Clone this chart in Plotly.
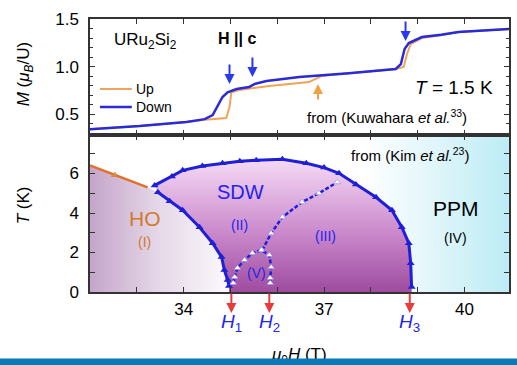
import plotly.graph_objects as go

# ---------------- data ----------------
# Top panel: magnetisation M (muB/U) vs field mu0H (T), T = 1.5 K
up_H = [32.0, 33.06, 34.06, 34.45, 34.91, 34.98, 35.02, 35.19, 35.83, 36.68, 36.81, 36.94,
        37.53, 38.53, 38.70, 38.77, 38.85, 39.09, 39.5, 39.87, 40.95]
up_M = [0.342, 0.374, 0.416, 0.440, 0.458, 0.574, 0.730, 0.753, 0.795, 0.837, 0.868, 0.900,
        0.930, 0.974, 0.995, 1.130, 1.237, 1.300, 1.330, 1.363, 1.395]
down_H = [32.0, 33.06, 34.06, 34.45, 34.62, 34.72, 34.83, 34.94, 35.13, 35.40, 35.51, 35.77,
          36.47, 37.53, 38.53, 38.64, 38.72, 38.81, 39.09, 39.5, 39.87, 40.95]
down_M = [0.342, 0.374, 0.416, 0.447, 0.490, 0.574, 0.680, 0.730, 0.763, 0.784, 0.816, 0.847,
          0.890, 0.930, 0.974, 1.026, 1.184, 1.247, 1.310, 1.335, 1.363, 1.395]

# Bottom panel: phase diagram T (K) vs mu0H (T)
ho_line_H = [32.0, 32.53, 33.23]
ho_line_T = [6.41, 5.93, 5.30]
sdw_upper_H = [33.38, 33.75, 33.98, 34.40, 34.83, 35.20, 35.55, 36.11, 36.62, 37.00, 37.32,
               37.68, 38.11, 38.45, 38.66, 38.81, 38.85, 38.87]
sdw_upper_T = [5.40, 5.85, 6.16, 6.38, 6.52, 6.62, 6.67, 6.72, 6.52, 6.30, 6.01,
               5.45, 4.80, 4.14, 3.28, 2.47, 1.46, 0.25]
sdw_lower_H = [33.45, 33.70, 33.98, 34.34, 34.62, 34.81, 34.87, 34.94, 34.97]
sdw_lower_T = [5.05, 4.60, 4.14, 3.28, 2.47, 1.77, 1.11, 0.61, 0.30]
iii_H = [35.68, 35.87, 36.11, 36.53, 36.89, 37.28]
iii_T = [2.12, 2.98, 3.79, 4.55, 5.00, 5.56]
v_H = [35.06, 35.09, 35.15, 35.30, 35.47, 35.66, 35.83, 35.87, 35.85, 35.85]
v_T = [0.45, 0.76, 1.21, 1.62, 1.97, 2.12, 1.87, 1.26, 0.71, 0.45]

crit_fields = [35.02, 35.83, 38.83]
crit_labels = ["<i>H</i><sub>1</sub>", "<i>H</i><sub>2</sub>", "<i>H</i><sub>3</sub>"]
blue_arrow_H = [34.98, 35.47, 38.74]
blue_arrow_M = [0.816, 0.890, 1.268]
orange_arrow_H = 36.87
orange_arrow_M = 0.816

x_ticks = [32, 33, 34, 35, 36, 37, 38, 39, 40]
x_ticktext = ["", "", "34", "", "", "37", "", "", "40"]
t_ticks = [0, 1, 2, 3, 4, 5, 6, 7]
t_ticktext = ["0", "", "2", "", "4", "", "6", ""]
m_ticks = [0.5, 1.0, 1.5]
m_ticktext = ["0.5", "1.0", "1.5"]

# ---------------- styling ----------------
FONT = "Arial, Liberation Sans, sans-serif"
BLUE = "#1f1fd8"
LBLUE = "#2323ee"
ORANGE = "#f0a35a"
DOWNC = "#2a2ad6"
HOCOL = "#d27a2c"
RED = "#e83b3b"
AX = "#333333"
BAND = "#0b78b8"

W, H = 517, 365
# wanted plot area on screen: x 90..511, y 19..292
ML, MT = 90, 19
MR = W - 511
MB = H - 292
PW, PH = W - ML - MR, H - MT - MB


def px_x(p):
    return (p - ML) / PW


def px_y(p):
    return (H - MB - p) / PH


fig = go.Figure()

# --- bottom panel background regions ---
x_lo, x_hi = 32.0, 40.95
t_lo, t_hi = 0.0, 7.95
fig.add_trace(go.Scatter(
    x=[37.6, x_hi, x_hi, 37.6, 37.6], y=[t_lo, t_lo, t_hi, t_hi, t_lo],
    fill="toself", mode="none", showlegend=False, hoverinfo="skip",
    fillgradient=dict(type="horizontal", start=37.8, stop=x_hi,
                      colorscale=[[0, "#ffffff"], [0.45, "#e2f6fa"], [1, "#bcecf5"]]),
    xaxis="x", yaxis="y"))

ho_poly_H = [x_lo, x_lo] + ho_line_H[1:] + sdw_lower_H + [sdw_lower_H[-1], x_lo]
ho_poly_T = [t_lo, ho_line_T[0]] + ho_line_T[1:] + sdw_lower_T + [t_lo, t_lo]
fig.add_trace(go.Scatter(
    x=ho_poly_H, y=ho_poly_T, fill="toself", mode="none", showlegend=False,
    hoverinfo="skip",
    fillgradient=dict(type="horizontal", start=32.0, stop=35.0,
                      colorscale=[[0, "#c5a5ca"], [0.5, "#e6d9e9"], [1, "#fcfafc"]]),
    xaxis="x", yaxis="y"))

dome_H = sdw_upper_H + [sdw_upper_H[-1], sdw_lower_H[-1]] + sdw_lower_H[::-1]
dome_T = sdw_upper_T + [t_lo, t_lo] + sdw_lower_T[::-1]
fig.add_trace(go.Scatter(
    x=dome_H, y=dome_T, fill="toself", mode="none", showlegend=False,
    hoverinfo="skip",
    fillgradient=dict(type="vertical", start=0.0, stop=6.8,
                      colorscale=[[0, "#9e4ca0"], [0.45, "#cb8acc"], [1, "#f6dcf6"]]),
    xaxis="x", yaxis="y"))

# --- phase boundaries ---
fig.add_trace(go.Scatter(
    x=ho_line_H, y=ho_line_T, mode="lines+markers", showlegend=False,
    line=dict(color="#e2702c", width=2.5),
    marker=dict(symbol="triangle-up", size=[0, 6, 0], color="#c8a040"),
    xaxis="x", yaxis="y"))
for hx, ty in [(sdw_upper_H, sdw_upper_T), (sdw_lower_H, sdw_lower_T)]:
    fig.add_trace(go.Scatter(
        x=hx, y=ty, mode="lines+markers", showlegend=False,
        line=dict(color=BLUE, width=3),
        marker=dict(symbol="triangle-up", size=7, color=BLUE),
        xaxis="x", yaxis="y"))
for hx, ty in [(iii_H, iii_T), (v_H, v_T)]:
    fig.add_trace(go.Scatter(
        x=hx, y=ty, mode="lines+markers", showlegend=False,
        line=dict(color=BLUE, width=2.5, dash="4px,2px"),
        marker=dict(symbol="triangle-up", size=6, color="white",
                    line=dict(color="#7a7ae0", width=0.5)),
        xaxis="x", yaxis="y"))

# --- magnetisation curves ---
fig.add_trace(go.Scatter(x=up_H, y=up_M, mode="lines", name="Up", showlegend=False,
                         line=dict(color=ORANGE, width=2), xaxis="x2", yaxis="y2"))
fig.add_trace(go.Scatter(x=down_H, y=down_M, mode="lines", name="Down", showlegend=False,
                         line=dict(color=DOWNC, width=2.5), xaxis="x2", yaxis="y2"))

# ---------------- annotations ----------------
ann = []
shapes = []


def txt(x, y, s, size, color="black", xref="x", yref="y", **kw):
    d = dict(x=x, y=y, xref=xref, yref=yref, text=s, showarrow=False,
             xanchor="center", yanchor="middle",
             font=dict(family=FONT, size=size, color=color))
    d.update(kw)
    ann.append(d)


# top panel
txt(33.19, 1.268, "URu<sub>2</sub>Si<sub>2</sub>", 17, xref="x2", yref="y2")
txt(35.13, 1.29, "<b>H</b> <b>||</b> <b>c</b>", 16, xref="x2", yref="y2")
txt(39.77, 0.784, "<i>T</i> = 1.5 K", 19, xref="x2", yref="y2")
txt(38.34, 0.479, "from (Kuwahara <i>et al.</i><sup>33</sup>)", 15, xref="x2", yref="y2")
for hx, my in zip(blue_arrow_H, blue_arrow_M):
    ann.append(dict(x=hx, y=my, xref="x2", yref="y2", ax=0, ay=-21, text="",
                    showarrow=True, arrowhead=2, arrowsize=1, arrowwidth=2,
                    arrowcolor="#2a3ae8"))
ann.append(dict(x=orange_arrow_H, y=orange_arrow_M, xref="x2", yref="y2", ax=0, ay=17,
                text="", showarrow=True, arrowhead=2, arrowsize=1, arrowwidth=2,
                arrowcolor="#f2a040"))

# legend (drawn by hand to match the original placement)
for name, col, wid, py in [("Up", ORANGE, 2, 89), ("Down", DOWNC, 2.5, 107)]:
    shapes.append(dict(type="line", xref="paper", yref="paper", x0=px_x(100), x1=px_x(132),
                       y0=px_y(py), y1=px_y(py), line=dict(color=col, width=wid)))
    txt(px_x(134), px_y(py), name, 14, xref="paper", yref="paper", xanchor="left")

# bottom panel
txt(38.83, 6.97, "from (Kim <i>et al.</i><sup>23</sup>)", 15)
txt(33.17, 3.74, "HO", 21, HOCOL)
txt(33.17, 2.55, "(I)", 14, HOCOL)
txt(35.21, 5.05, "SDW", 20, LBLUE)
txt(35.19, 3.40, "(II)", 14, LBLUE)
txt(37.04, 2.85, "(III)", 14, LBLUE)
txt(35.55, 0.98, "(V)", 14, LBLUE)
txt(39.81, 4.22, "PPM", 21)
txt(39.81, 2.75, "(IV)", 14)
for hx, lab in zip(crit_fields, crit_labels):
    ann.append(dict(x=hx, y=px_y(313), xref="x", yref="paper", ax=0, ay=-21, text="",
                    showarrow=True, arrowhead=2, arrowsize=1, arrowwidth=2,
                    arrowcolor=RED))
    txt(hx, px_y(323), lab, 19, LBLUE, yref="paper")

# axis titles
txt(px_x(25), px_y(74), "<i>M</i> (<i>μ<sub>B</sub></i>/U)", 17, xref="paper", yref="paper",
    textangle=-90)
txt(px_x(23), px_y(205), "<i>T</i> (K)", 17, xref="paper", yref="paper", textangle=-90)
txt(px_x(300), px_y(356), "<i>μ</i><sub>0</sub><i>H</i> (T)", 17, xref="paper", yref="paper")
# blue footer band, drawn over the axis title as in the original
ann.append(dict(x=px_x(-3), y=px_y(358), xref="paper", yref="paper", xanchor="left",
                yanchor="top", text=".", showarrow=False, width=W + 10, height=14,
                bgcolor=BAND, borderpad=0, font=dict(size=8, color=BAND)))

axis_common = dict(showline=True, linecolor=AX, linewidth=1.5, mirror="ticks",
                   ticks="inside", tickcolor=AX, showgrid=False, zeroline=False,
                   tickfont=dict(family=FONT, size=17, color="black"))

fig.update_layout(
    width=W, height=H, margin=dict(l=ML, r=MR, t=MT, b=MB),
    paper_bgcolor="white", plot_bgcolor="white",
    font=dict(family=FONT, color="black"),
    showlegend=False,
    xaxis=dict(range=[x_lo, x_hi], domain=[0, 1], anchor="y", tickmode="array",
               tickvals=x_ticks, ticktext=x_ticktext, ticklen=5,
               ticklabelstandoff=1, **axis_common),
    yaxis=dict(range=[t_lo, t_hi], domain=[0, 0.575], anchor="x", tickmode="array",
               tickvals=t_ticks, ticktext=t_ticktext, ticklen=5,
               ticklabelstandoff=6, **axis_common),
    xaxis2=dict(range=[x_lo, x_hi], domain=[0, 1], anchor="y2", tickmode="array",
                tickvals=x_ticks, ticktext=[""] * len(x_ticks), ticklen=5,
                **axis_common),
    yaxis2=dict(range=[0.28, 1.5], domain=[0.575, 1], anchor="x2", tickmode="array",
                tickvals=m_ticks, ticktext=m_ticktext, ticklen=5, ticklabelstandoff=6,
                minor=dict(dtick=0.1, tick0=0.0, ticklen=3, ticks="inside", tickcolor=AX),
                **axis_common),
    shapes=shapes,
    annotations=ann,
)

fig.write_html("out.html", config={"displayModeBar": False},
               post_script="document.body.style.margin='0';document.body.style.overflow='hidden';")
